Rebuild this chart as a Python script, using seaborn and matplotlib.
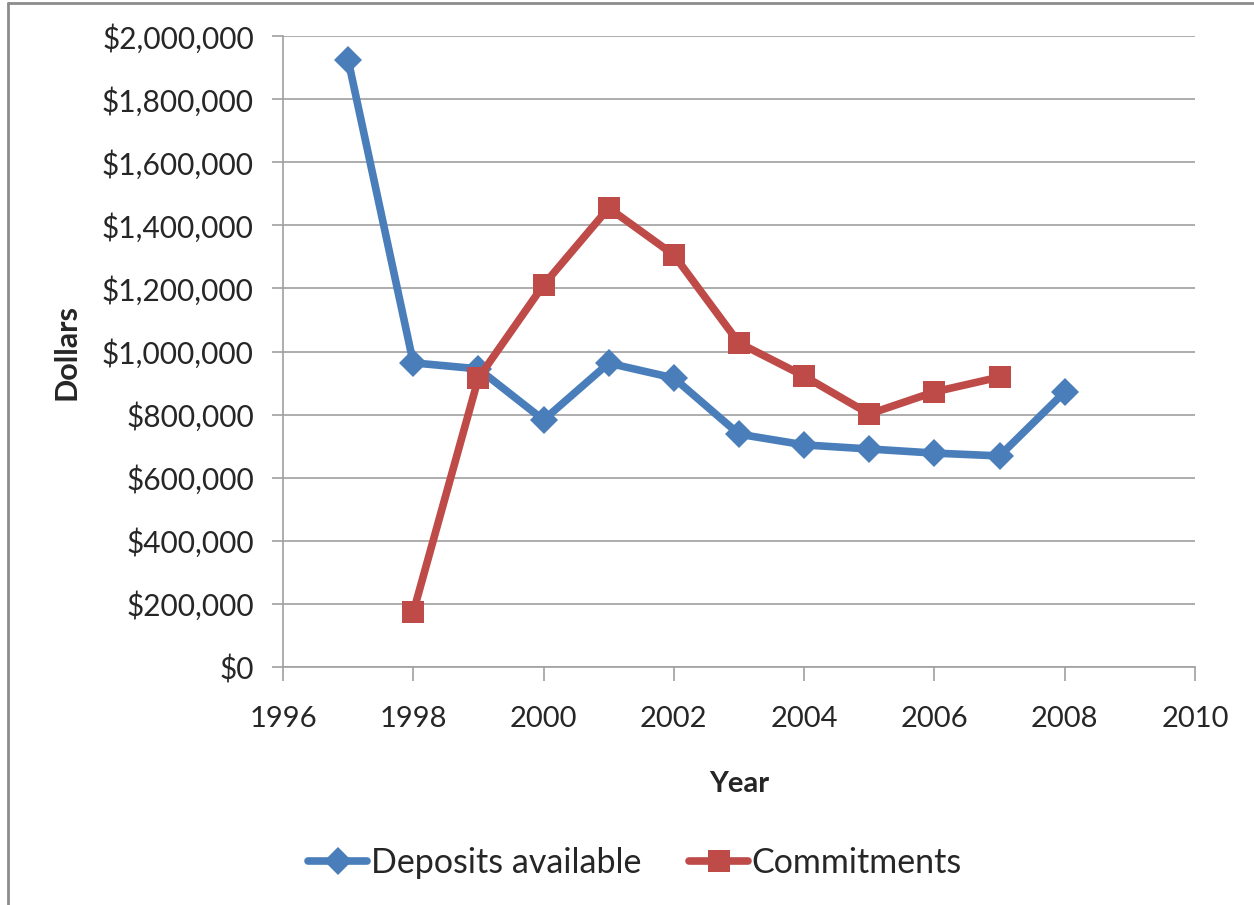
import matplotlib
matplotlib.use("Agg")
import matplotlib.pyplot as plt
import matplotlib.ticker as mticker
from matplotlib.lines import Line2D
import seaborn as sns
import pandas as pd

dep_years = [1997, 1998, 1999, 2000, 2001, 2002, 2003, 2004, 2005, 2006, 2007, 2008]
deposits = [1924000, 964000, 945000, 783000, 963000, 916000, 738000, 704000, 691000, 678000, 669000, 872000]
com_years = [1998, 1999, 2000, 2001, 2002, 2003, 2004, 2005, 2006, 2007]
commitments = [174000, 916000, 1211000, 1455000, 1306000, 1027000, 922000, 802000, 872000, 919000]
x_ticks = [1996, 1998, 2000, 2002, 2004, 2006, 2008, 2010]
y_ticks = list(range(0, 2000001, 200000))

sns.set_theme(style="white")
plt.rcParams['font.family'] = ['Lato', 'DejaVu Sans']

fig = plt.figure(figsize=(12.54, 9.05), dpi=100)
ax = fig.add_axes([283/1254, 1-667/905, (1195-283)/1254, (667-36)/905])

blue = "#4A7EBB"
red = "#BE4B48"
df_d = pd.DataFrame({"Year": dep_years, "Dollars": deposits})
df_c = pd.DataFrame({"Year": com_years, "Dollars": commitments})
sns.lineplot(data=df_d, x="Year", y="Dollars", ax=ax, color=blue, lw=5.5,
             marker="D", markersize=14, markeredgewidth=0, label="Deposits available", zorder=3)
sns.lineplot(data=df_c, x="Year", y="Dollars", ax=ax, color=red, lw=5.5,
             marker="s", markersize=16, markeredgewidth=0, label="Commitments", zorder=3)

ax.set_xlim(1996, 2010)
ax.set_ylim(0, 2000000)
ax.set_xticks(x_ticks)
ax.set_yticks(y_ticks)
ax.yaxis.set_major_formatter(mticker.FuncFormatter(lambda v, p: f"${int(v):,}"))
ax.grid(axis="y", color="#A0A0A0", lw=1.2)
ax.grid(axis="x", visible=False)
for s in ["top", "right"]:
    ax.spines[s].set_visible(False)
for s in ["left", "bottom"]:
    ax.spines[s].set_color("#A0A0A0")
    ax.spines[s].set_linewidth(1.2)
ax.tick_params(axis="x", direction="out", length=10, width=1.2, color="#A0A0A0",
               labelsize=21, pad=18, bottom=True)
ax.tick_params(axis="y", direction="out", length=8, width=1.2, color="#A0A0A0",
               labelsize=21.5, pad=13, left=True)
ax.set_xlabel("Year", fontsize=21, fontweight="bold", labelpad=28)
ax.set_ylabel("Dollars", fontsize=22, fontweight="bold")
ax.yaxis.set_label_coords(-0.222, 0.5)

ax.legend(loc="center", bbox_to_anchor=(0.386, -0.31), ncol=2, frameon=False,
          fontsize=24.5, handlelength=1.75, columnspacing=1.4, handletextpad=0.1)

fig.add_artist(Line2D([8/1254, 8/1254], [0, 1-3/905], color="#8C8C8C", lw=2, transform=fig.transFigure))
fig.add_artist(Line2D([8/1254, 1], [1-3/905, 1-3/905], color="#8C8C8C", lw=2, transform=fig.transFigure))

fig.savefig("out.png", dpi=100)
